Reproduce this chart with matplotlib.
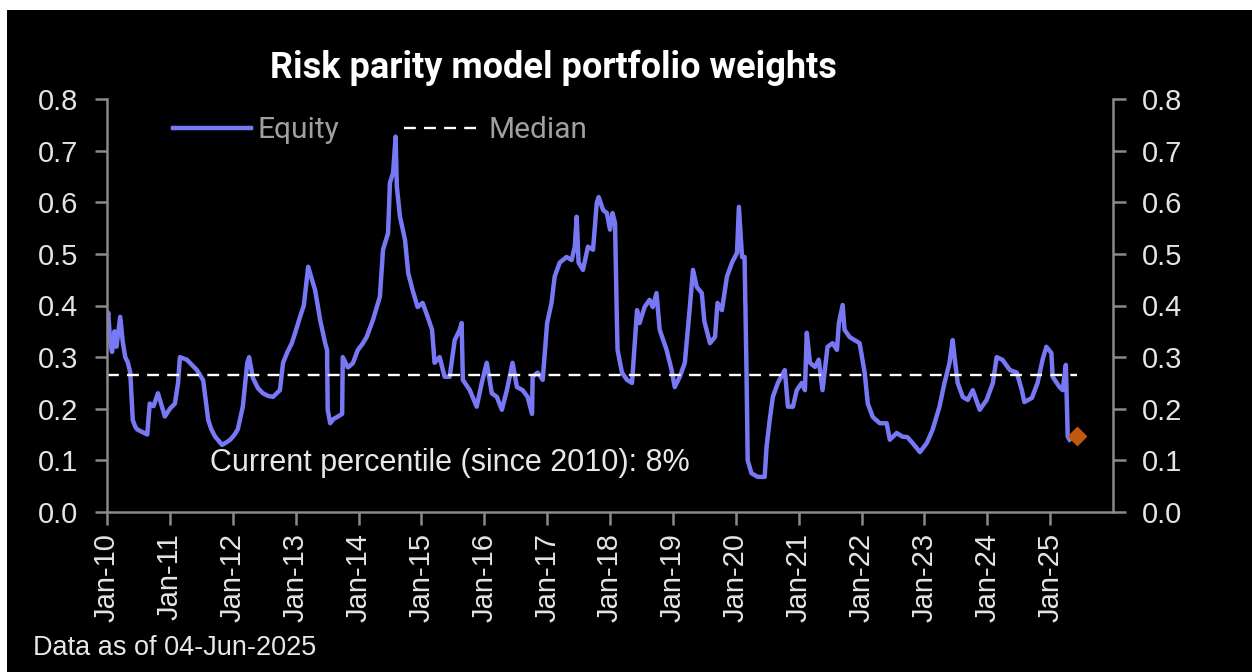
import matplotlib.pyplot as plt
from matplotlib.patches import Rectangle

# equity weight (x in decimal years)
years = [2010.00, 2010.02, 2010.05, 2010.08, 2010.12, 2010.15, 2010.21, 2010.25, 2010.29, 2010.33,
         2010.37, 2010.41, 2010.45, 2010.48, 2010.56, 2010.64, 2010.68, 2010.74, 2010.81, 2010.86,
         2010.92, 2011.00, 2011.08, 2011.13, 2011.16, 2011.27, 2011.35, 2011.43, 2011.53, 2011.61,
         2011.66, 2011.72, 2011.83, 2011.90, 2011.96, 2012.03, 2012.08, 2012.16, 2012.23, 2012.26,
         2012.32, 2012.40, 2012.48, 2012.56, 2012.64, 2012.75, 2012.80, 2012.87, 2012.94, 2013.00,
         2013.07, 2013.13, 2013.20, 2013.26, 2013.31, 2013.39, 2013.47, 2013.50, 2013.51, 2013.55,
         2013.60, 2013.66, 2013.74, 2013.75, 2013.83, 2013.91, 2013.99, 2014.06, 2014.13, 2014.23,
         2014.34, 2014.39, 2014.47, 2014.50, 2014.55, 2014.59, 2014.61, 2014.66, 2014.74, 2014.79,
         2014.86, 2014.94, 2015.02, 2015.10, 2015.17, 2015.21, 2015.29, 2015.37, 2015.45, 2015.53,
         2015.61, 2015.64, 2015.66, 2015.77, 2015.88, 2015.96, 2016.04, 2016.12, 2016.20, 2016.28,
         2016.36, 2016.45, 2016.52, 2016.61, 2016.69, 2016.76, 2016.77, 2016.85, 2016.93, 2017.00,
         2017.07, 2017.12, 2017.20, 2017.31, 2017.39, 2017.44, 2017.47, 2017.50, 2017.57, 2017.65,
         2017.73, 2017.79, 2017.82, 2017.89, 2017.95, 2018.00, 2018.04, 2018.08, 2018.11, 2018.12,
         2018.19, 2018.27, 2018.35, 2018.43, 2018.47, 2018.55, 2018.63, 2018.68, 2018.74, 2018.79,
         2018.90, 2018.98, 2019.03, 2019.11, 2019.19, 2019.27, 2019.32, 2019.38, 2019.46, 2019.50,
         2019.59, 2019.67, 2019.71, 2019.78, 2019.86, 2019.94, 2020.02, 2020.05, 2020.10, 2020.14,
         2020.17, 2020.19, 2020.25, 2020.35, 2020.46, 2020.49, 2020.54, 2020.59, 2020.67, 2020.78,
         2020.83, 2020.91, 2020.97, 2021.05, 2021.10, 2021.13, 2021.18, 2021.26, 2021.32, 2021.38,
         2021.46, 2021.54, 2021.61, 2021.64, 2021.70, 2021.73, 2021.81, 2021.89, 2021.97, 2022.05,
         2022.10, 2022.18, 2022.29, 2022.40, 2022.45, 2022.56, 2022.65, 2022.73, 2022.81, 2022.93,
         2023.04, 2023.13, 2023.24, 2023.32, 2023.40, 2023.45, 2023.48, 2023.53, 2023.61, 2023.69,
         2023.77, 2023.88, 2023.99, 2024.09, 2024.15, 2024.24, 2024.36, 2024.47, 2024.55, 2024.59,
         2024.71, 2024.80, 2024.88, 2024.94, 2025.02, 2025.04, 2025.15, 2025.20, 2025.25, 2025.26,
         2025.28, 2025.31]
equity = [0.370, 0.386, 0.330, 0.310, 0.350, 0.320, 0.378, 0.330, 0.300, 0.290,
          0.270, 0.178, 0.165, 0.160, 0.155, 0.150, 0.210, 0.205, 0.230, 0.210,
          0.185, 0.200, 0.210, 0.250, 0.300, 0.295, 0.285, 0.275, 0.255, 0.178,
          0.160, 0.146, 0.130, 0.135, 0.140, 0.150, 0.160, 0.204, 0.288, 0.300,
          0.260, 0.240, 0.230, 0.225, 0.223, 0.236, 0.289, 0.310, 0.327, 0.350,
          0.378, 0.400, 0.475, 0.450, 0.430, 0.372, 0.327, 0.314, 0.198, 0.172,
          0.180, 0.184, 0.190, 0.300, 0.280, 0.288, 0.314, 0.325, 0.339, 0.372,
          0.417, 0.508, 0.540, 0.638, 0.657, 0.727, 0.630, 0.572, 0.527, 0.463,
          0.430, 0.397, 0.405, 0.378, 0.353, 0.289, 0.300, 0.262, 0.262, 0.333,
          0.353, 0.366, 0.256, 0.236, 0.204, 0.250, 0.289, 0.230, 0.223, 0.198,
          0.236, 0.289, 0.242, 0.236, 0.223, 0.190, 0.262, 0.270, 0.256, 0.366,
          0.405, 0.456, 0.483, 0.494, 0.488, 0.514, 0.572, 0.483, 0.469, 0.514,
          0.508, 0.599, 0.610, 0.585, 0.579, 0.547, 0.579, 0.560, 0.366, 0.314,
          0.270, 0.256, 0.250, 0.391, 0.366, 0.397, 0.411, 0.397, 0.424, 0.353,
          0.314, 0.275, 0.242, 0.262, 0.289, 0.397, 0.469, 0.436, 0.424, 0.370,
          0.327, 0.339, 0.405, 0.391, 0.456, 0.483, 0.502, 0.591, 0.494, 0.494,
          0.281, 0.100, 0.075, 0.068, 0.068, 0.126, 0.178, 0.223, 0.250, 0.275,
          0.204, 0.204, 0.236, 0.250, 0.236, 0.347, 0.289, 0.281, 0.295, 0.236,
          0.320, 0.327, 0.314, 0.366, 0.401, 0.353, 0.339, 0.333, 0.327, 0.270,
          0.210, 0.184, 0.172, 0.172, 0.140, 0.153, 0.146, 0.145, 0.134, 0.116,
          0.134, 0.159, 0.204, 0.250, 0.289, 0.333, 0.300, 0.250, 0.223, 0.217,
          0.236, 0.198, 0.217, 0.250, 0.300, 0.295, 0.275, 0.270, 0.236, 0.213,
          0.221, 0.250, 0.295, 0.320, 0.308, 0.262, 0.242, 0.236, 0.285, 0.236,
          0.146, 0.140]

median = 0.265
current_x = 2025.42
current_y = 0.147
tick_years = list(range(2010, 2026))
tick_labels = ["Jan-%02d" % (y % 100) for y in tick_years]

plt.rcParams['font.family'] = ['Liberation Sans', 'DejaVu Sans']

fig = plt.figure(figsize=(12.52, 6.72), dpi=100, facecolor='white')
# black panel with a thin white margin on top/left
fig.patches.append(Rectangle((7 / 1252, 0), 1 - 7 / 1252, 1 - 10 / 672,
                             transform=fig.transFigure, facecolor='black', zorder=-10))

ax = fig.add_axes([107 / 1252, 160 / 672, 1006 / 1252, 413 / 672])
ax.set_facecolor('black')

ax.plot(years, equity, color='#7878F5', lw=3.2, label='Equity', solid_joinstyle='round')
ax.plot([2010, current_x], [median, median], color='white', lw=1.7,
        dashes=(5, 3.5), label='Median')
ax.plot([current_x], [current_y], marker='D', ms=9, color='#C0580F', ls='none')

ax.set_xlim(2010, 2026)
ax.set_ylim(0, 0.8)
ax.set_xticks(tick_years)
ax.set_xticklabels(tick_labels, rotation=90)
ax.set_yticks([0.0, 0.1, 0.2, 0.3, 0.4, 0.5, 0.6, 0.7, 0.8])
ax.set_yticklabels(["%.1f" % v for v in ax.get_yticks()])

grey = '#8A8A8A'
for s in ['left', 'right', 'bottom']:
    ax.spines[s].set_color(grey)
    ax.spines[s].set_linewidth(1.8)
ax.spines['top'].set_visible(False)
ax.tick_params(axis='both', colors=grey, labelcolor='#E4E4E4', labelsize=21,
               length=9, width=1.8, direction='out')
ax.tick_params(axis='y', right=True, labelright=True, pad=12)
ax.tick_params(axis='x', pad=6)

leg = ax.legend(loc='center left', bbox_to_anchor=(0.066, 0.925), ncol=2, frameon=False,
                fontsize=21.5, handlelength=2.6, handletextpad=0.2, columnspacing=2.2,
                borderpad=0, borderaxespad=0)
for t in leg.get_texts():
    t.set_color('#A0A0A0')
    t.set_family('Roboto')

ax.text(0.102, 0.119, "Current percentile (since 2010): 8%", transform=ax.transAxes,
        color='#E8E8E8', fontsize=22, va='center', ha='left')

fig.text(553 / 1252, 1 - 68 / 672, "Risk parity model portfolio weights", color='white',
         fontsize=26, fontweight='bold', family='Roboto', ha='center', va='center')
fig.text(33 / 1252, 1 - 648 / 672, "Data as of 04-Jun-2025", color='#E8E8E8',
         fontsize=19.5, ha='left', va='center')

fig.savefig('out.png', dpi=100, facecolor=fig.get_facecolor())
